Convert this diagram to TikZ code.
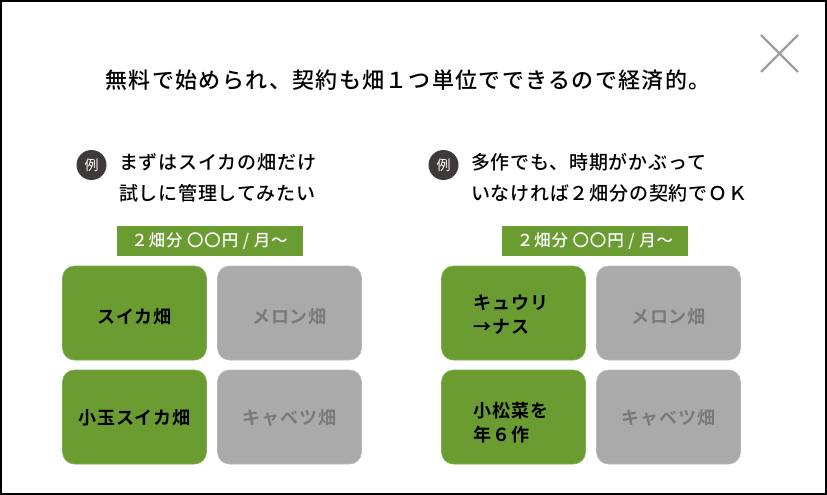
\documentclass[tikz,border=0pt]{standalone}
\usepackage{fontspec}
\newfontfamily\jp{Noto Sans CJK JP}[BoldFont={Noto Sans CJK JP Bold}]
\newfontfamily\jpm{Noto Sans CJK JP Medium}
\definecolor{leaf}{HTML}{6A9C32}
\definecolor{pale}{HTML}{AAAAAA}
\definecolor{paletext}{HTML}{7A7A7A}
\definecolor{badgegray}{HTML}{3E3A39}
\definecolor{closegray}{HTML}{9E9E9E}
\tikzset{
  titletext/.style={inner sep=0pt, font=\jpm\addfontfeatures{LetterSpace=6}\fontsize{22}{22}\selectfont},
  badge/.style={circle, fill=badgegray, text=white, minimum size=30pt, inner sep=0pt, font=\jp\fontsize{14}{14}\selectfont},
  extext/.style={inner sep=0pt, align=left, anchor=west, font=\jpm\addfontfeatures{LetterSpace=4}\fontsize{19}{31}\selectfont},
  pricetag/.style={fill=leaf, text=white, minimum width=186pt, minimum height=30pt, inner sep=0pt, font=\jpm\addfontfeatures{LetterSpace=5}\fontsize{16.5}{16.5}\selectfont},
  greenbox/.style={fill=leaf, draw=leaf!85!white, line width=0.6pt, rounded corners=12pt, minimum width=144pt, minimum height=94pt, inner sep=0pt},
  graybox/.style={fill=pale, draw=pale!85!white, line width=0.6pt, rounded corners=12pt, minimum width=144pt, minimum height=94pt, inner sep=0pt},
  greenlabel/.style={inner sep=0pt, text=black, font=\jp\bfseries\addfontfeatures{LetterSpace=5}\fontsize{18}{24}\selectfont},
  graylabel/.style={inner sep=0pt, text=paletext, font=\jp\bfseries\addfontfeatures{LetterSpace=5}\fontsize{18}{24}\selectfont},
}
\begin{document}
\begin{tikzpicture}[x=1pt, y=-1pt]
\useasboundingbox (0,0) rectangle (827,495);
\draw[line width=2pt] (1,1) rectangle (825.5,493.5);
% close mark
\coordinate (xa) at (761,35);
\coordinate (xb) at (798,72);
\coordinate (xc) at (798,35);
\coordinate (xd) at (761,72);
\draw[closegray, line width=2.2pt] (xa) -- (xb);
\draw[closegray, line width=2.2pt] (xc) -- (xd);
% title
\node[titletext] (title) at (408,80) {無料で始められ、契約も畑１つ単位でできるので経済的。};
% left example
\node[badge] (b1) at (91.5,165) {例};
\node[extext] (e1) at (119,178) {まずはスイカの畑だけ\\試しに管理してみたい};
\node[pricetag] (p1) at (209.5,241) {２畑分 〇〇円 / 月〜};
\node[greenbox] (g11) at (134.5,313) {};
\node[graybox] (r11) at (289.5,313) {};
\node[greenbox] (g12) at (134.5,417) {};
\node[graybox] (r12) at (289.5,417) {};
\node[greenlabel] (t11) at ([yshift=-4pt]g11.center) {スイカ畑};
\node[graylabel] (u11) at ([yshift=-4pt]r11.center) {メロン畑};
\node[greenlabel] (t12) at ([yshift=-1pt]g12.center) {小玉スイカ畑};
\node[graylabel] (u12) at ([yshift=-1pt]r12.center) {キャベツ畑};
% right example
\node[badge] (b2) at (443.5,165) {例};
\node[extext] (e2) at (471,178) {多作でも、時期がかぶって\\いなければ２畑分の契約でＯＫ};
\node[pricetag] (p2) at (595,241) {２畑分 〇〇円 / 月〜};
\node[greenbox] (g21) at (513.5,313) {};
\node[graybox] (r21) at (668.5,313) {};
\node[greenbox] (g22) at (513.5,417) {};
\node[graybox] (r22) at (668.5,417) {};
\node[greenlabel, align=left, anchor=west] (t21) at ([xshift=-40pt, yshift=-2pt]g21.center) {キュウリ\\→ナス};
\node[graylabel] (u21) at ([yshift=-4pt]r21.center) {メロン畑};
\node[greenlabel, align=left, anchor=west] (t22) at ([xshift=-40pt, yshift=-6pt]g22.center) {小松菜を\\年６作};
\node[graylabel] (u22) at ([yshift=-1pt]r22.center) {キャベツ畑};
\end{tikzpicture}
\end{document}
